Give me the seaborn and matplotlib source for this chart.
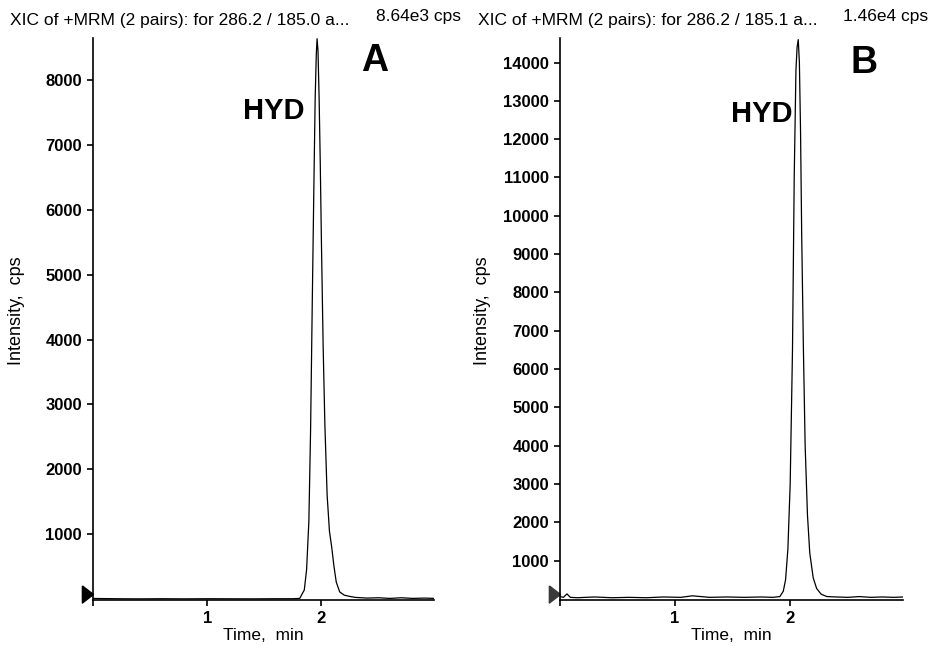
# XIC chromatograms (+MRM 286.2 / 185.x) – panels A and B

import matplotlib
matplotlib.use('Agg')
import matplotlib.pyplot as plt
import seaborn as sns
import pandas as pd

# Panel A – 286.2 / 185.0
time_a = [0.00, 0.05, 0.20, 0.40, 0.60, 0.80, 1.00, 1.20, 1.40, 1.60, 1.75, 1.81,
          1.85, 1.87, 1.89, 1.905, 1.92, 1.935, 1.945, 1.955, 1.962, 1.970, 1.980,
          1.990, 2.000, 2.015, 2.030, 2.050, 2.070, 2.090, 2.110, 2.130, 2.160,
          2.200, 2.250, 2.300, 2.400, 2.500, 2.600, 2.700, 2.800, 2.900, 2.990]
int_a = [10, 8, 5, 3, 5, 3, 5, 4, 3, 5, 5, 10,
         140, 450, 1200, 2600, 4600, 6500, 7700, 8400, 8640, 8450, 7700,
         6700, 5500, 3900, 2700, 1600, 1050, 800, 500, 260, 110,
         60, 40, 25, 15, 20, 10, 20, 10, 15, 10]

# Panel B – 286.2 / 185.1
time_b = [0.00, 0.03, 0.06, 0.09, 0.15, 0.30, 0.45, 0.60, 0.75, 0.90, 1.05, 1.15,
          1.30, 1.45, 1.60, 1.75, 1.85, 1.91, 1.94, 1.96, 1.98, 2.00, 2.02, 2.035,
          2.05, 2.06, 2.07, 2.08, 2.09, 2.10, 2.115, 2.13, 2.15, 2.17, 2.20, 2.23,
          2.27, 2.32, 2.40, 2.50, 2.60, 2.70, 2.80, 2.90, 2.98]
int_b = [60, 40, 130, 40, 30, 50, 30, 40, 30, 50, 40, 80,
         40, 50, 40, 50, 40, 60, 200, 500, 1300, 3000, 6500, 11000,
         13800, 14400, 14600, 14000, 12200, 9500, 6500, 4000, 2200, 1200, 550, 270,
         120, 60, 50, 40, 60, 40, 50, 40, 50]

titles = ['XIC of +MRM (2 pairs): for 286.2 / 185.0 a...',
          'XIC of +MRM (2 pairs): for 286.2 / 185.1 a...']
max_labels = ['8.64e3 cps', '1.46e4 cps']
panel_letters = ['A', 'B']
peak_name = 'HYD'
yticks_a = list(range(1000, 9000, 1000))
yticks_b = list(range(1000, 15000, 1000))
xticks = [0, 1, 2]
xtick_labels = ['', '1', '2']
marker_level = [80, 130]

sns.set_theme(style='ticks')
plt.rcParams['font.family'] = ['Liberation Sans', 'DejaVu Sans']
plt.rcParams['text.color'] = 'black'
plt.rcParams['axes.labelcolor'] = 'black'

fig = plt.figure(figsize=(9.31, 6.47), dpi=100)
ax_a = fig.add_axes([0.0999, 0.0726, 0.3668, 0.8686])
ax_b = fig.add_axes([0.6015, 0.0726, 0.3684, 0.8686])

# axes, data, yticks, xlim, ylim, triangle colour, HYD pos, letter pos
panels = [
    (ax_a, time_a, int_a, yticks_a, (0, 2.99), (-15, 8650), 'black',
     (1.85, 7520), (0.825, 0.959)),
    (ax_b, time_b, int_b, yticks_b, (0, 2.98), (-30, 14640), '#3a3a3a',
     (2.017, 12650), (0.886, 0.955)),
]

tri = [(-1, 0.77), (0, 0), (-1, -0.77), (-1, 0.77)]

for i, (ax, t, y, yt, xl, yl, tri_col, hyd_pos, let_pos) in enumerate(panels):
    df = pd.DataFrame({'Time': t, 'Intensity': y})
    sns.lineplot(data=df, x='Time', y='Intensity', ax=ax, color='black',
                 linewidth=0.9, sort=False)
    ax.set_xlim(*xl)
    ax.set_ylim(*yl)
    ax.set_xticks(xticks)
    ax.set_xticklabels(xtick_labels)
    ax.set_yticks(yt)
    sns.despine(ax=ax)
    for s in ['left', 'bottom']:
        ax.spines[s].set_linewidth(1.2)
        ax.spines[s].set_color('black')
    ax.tick_params(direction='out', length=4, width=1.2, colors='black',
                   labelsize=12, pad=4)
    for lab in ax.get_xticklabels() + ax.get_yticklabels():
        lab.set_fontweight('bold')
    ax.set_xlabel('Time,  min', fontsize=12.5, labelpad=1)
    ax.set_ylabel('Intensity,  cps', fontsize=13)
    ax.yaxis.set_label_coords(-0.20, 0.515)
    ax.plot([t[0]], [marker_level[i]], marker=tri, markersize=16, color=tri_col,
            clip_on=False, linestyle='none')

    ax.text(hyd_pos[0], hyd_pos[1], peak_name, ha='right', va='center',
            fontsize=21, fontweight='bold')
    ax.text(let_pos[0], let_pos[1], panel_letters[i], transform=ax.transAxes,
            ha='center', va='center', fontsize=27, fontweight='bold')

fig.text(0.0107, 0.968, titles[0], ha='left', va='center', fontsize=12.5)
fig.text(0.495, 0.974, max_labels[0], ha='right', va='center', fontsize=12.5)
fig.text(0.513, 0.968, titles[1], ha='left', va='center', fontsize=12.5)
fig.text(0.997, 0.974, max_labels[1], ha='right', va='center', fontsize=12.5)

fig.savefig('out.png', dpi=100)
plt.close(fig)
